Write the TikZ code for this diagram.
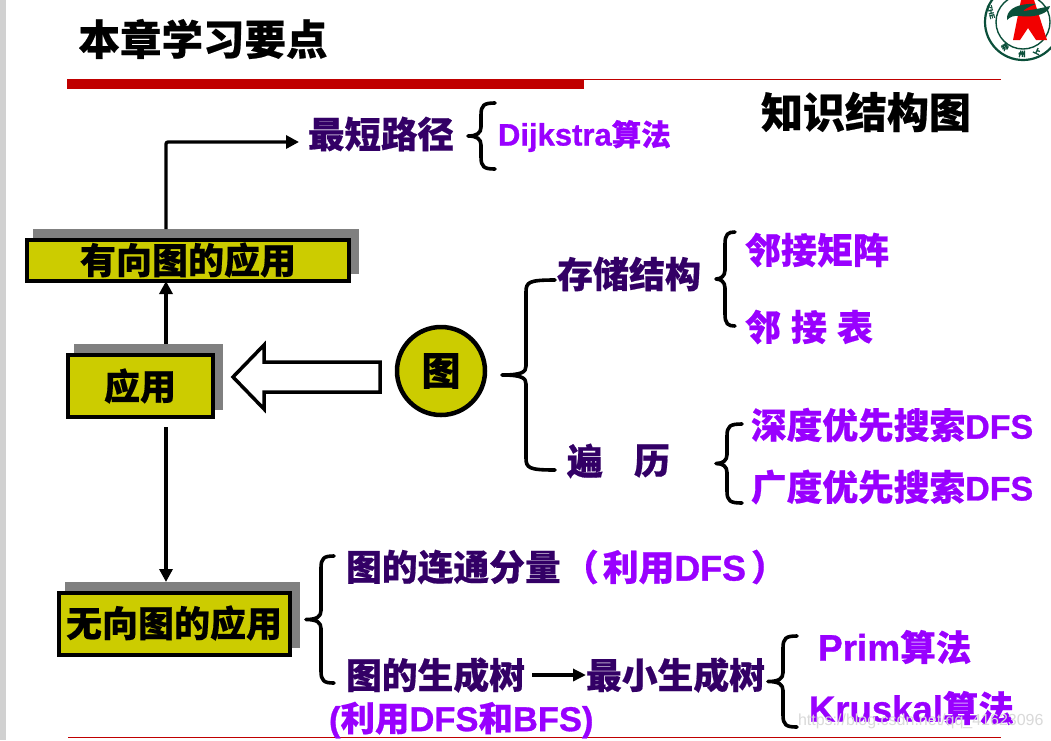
\documentclass[tikz,border=0pt]{standalone}
\usepackage{fontspec}
\setmainfont{Noto Sans CJK SC}[BoldFeatures={FakeBold=0.5}]
\newfontfamily\lat{Liberation Sans}[BoldFeatures={FakeBold=0.9}]
\usetikzlibrary{arrows.meta}
\definecolor{boxy}{HTML}{CCCC00}
\definecolor{shad}{HTML}{808080}
\definecolor{darkp}{HTML}{330066}
\definecolor{brightp}{HTML}{9900FF}
\definecolor{rule}{HTML}{C00000}
\definecolor{logog}{HTML}{0B4F3A}
\newcommand{\fs}[1]{\fontsize{#1}{#1}\selectfont\bfseries}
\newcommand{\la}[1]{{\lat\bfseries #1}}
\newcommand{\mybrace}[5]{% tip, spine, end, top, bottom
  \pgfmathsetmacro{\ymid}{(#4+#5)/2}
  \draw[bracep] (#3,#4) .. controls (#2+3,#4) and (#2,#4+2) .. (#2,#4+12)
    -- (#2,\ymid-9) .. controls (#2,\ymid-3) and (#2-4,\ymid) .. (#1,\ymid)
    .. controls (#2-4,\ymid) and (#2,\ymid+3) .. (#2,\ymid+9)
    -- (#2,#5-12) .. controls (#2,#5-2) and (#2+3,#5) .. (#3,#5);}
\tikzset{
  x=1pt,y=-1pt,
  every node/.style={inner sep=0pt,outer sep=0pt},
  bracep/.style={line width=3.6pt,black,line cap=round,line join=round},
  ybox/.style={fill=boxy,draw=black,line width=4pt},
  flow/.style={line width=3.3pt,black,-{Triangle[length=13pt,width=13pt]}},
  dk/.style={text=darkp},
  br/.style={text=brightp},
  blk/.style={text=black},
}
\begin{document}
\begin{tikzpicture}
\useasboundingbox (0,0) rectangle (1051,740);
\fill[white] (0,0) rectangle (1051,740);
\fill[black!18] (0,0) rectangle (6,740);
% rules
\draw[rule,line width=1pt] (67,79.5) -- (1001,79.5);
\fill[rule] (67,79) rectangle (584,89);
\draw[rule,line width=1pt] (68,737.5) -- (1001,737.5);
% logo
\begin{scope}
\clip (970,0) rectangle (1051,70);
\draw[logog,line width=2.2pt] (1023,22) circle (38);
\draw[logog,line width=1.4pt] (1023,22) circle (27);
\fill[red!95!black] (1021,0) -- (1034,0) -- (1047,40) -- (1036,40) -- (1028,28) -- (1020,40) -- (1013,40) -- cycle;
\fill[logog] (1007,17) .. controls (1008,8) and (1020,3) .. (1036,4) .. controls (1028,7) and (1025,9) .. (1023,11)
  .. controls (1032,10) and (1042,8) .. (1050,6) .. controls (1049,13) and (1036,18) .. (1020,16) .. controls (1014,15) and (1010,17) .. (1007,20) -- cycle;
\node[logog,rotate=-75,font=\fs{7}\lat] (lz) at (991,12) {ZHE};
\node[logog,rotate=35,font=\fs{7}] (l1) at (1005,47) {郑};
\node[logog,font=\fs{7}] (l2) at (1022,54) {州};
\node[logog,rotate=-25,font=\fs{7}] (l3) at (1037,51) {上};
\end{scope}
% title
\node[blk,font=\fs{41.5}] (title) at (203,39) {本章学习要点};
\node[blk,font=\fs{42}] (kt) at (866,112) {知识结构图};
% shadows and boxes
\path[fill=shad] (33,229) rectangle (359,274);
\coordinate (sa) at (196,229);
\path[fill=shad] (74,344) rectangle (223,410);
\coordinate (sb) at (148,344);
\path[fill=shad] (65,582) rectangle (300,648);
\coordinate (sc) at (182,582);
\coordinate (trunk) at (166,0);
\node[ybox,minimum width=322pt,minimum height=41pt] (dir) at (188,260.5) {};
\node[ybox,minimum width=145pt,minimum height=62pt] (app) at (140.5,386) {};
\node[ybox,minimum width=231pt,minimum height=62pt] (und) at (174.5,624) {};
\node[blk,font=\fs{36}] at (188,260) {有向图的应用};
\node[blk,font=\fs{36}] at (140,386) {应用};
\node[blk,font=\fs{36}] at (174,623) {无向图的应用};
\node[fill=boxy,draw=black,line width=4.5pt,circle,minimum size=88pt,font=\fs{39}] (g) at (441,371) {图};
% connectors
\node[dk,font=\fs{36.5}] (sp) at (381,134) {最短路径};
\coordinate (spw) at (299,142);
\draw[line width=3.3pt,-{Triangle[length=13pt,width=13pt]},rounded corners=2pt] (sa -| trunk) -- (trunk |- spw) -- (spw);
\draw[flow] (sb -| trunk) -- (dir.south -| trunk);
\coordinate (dstart) at (166,427);
\draw[flow] (dstart) -- (sc -| trunk);
% block arrow
\draw[black,fill=white,line width=3.5pt,miter limit=10] (380,362) -- (264,362) -- (264,345) -- (233,377) -- (264,409) -- (264,392) -- (380,392) -- cycle;
% braces
\mybrace{468}{481}{495}{103}{169}
\mybrace{502}{526}{555}{280}{470}
\mybrace{716}{725}{735}{232}{326}
\mybrace{716}{727}{742}{424}{503}
\mybrace{306}{321}{334}{556}{683}
\mybrace{768}{783}{797}{636}{727}
% texts
\node[br,font=\fs{29.5},anchor=west] (dij) at (498,136) {\fontsize{31}{31}\selectfont\la{Dijkstra}\fs{29.5}算法};
\node[dk,font=\fs{36}] (cc) at (629,274) {存储结构};
\node[br,font=\fs{36}] (jz) at (817,250) {邻接矩阵};
\node[br,font=\fs{36},anchor=west] (lb1) at (745,327) {邻};
\node[br,font=\fs{36},anchor=west] (lb2) at (791,327) {接};
\node[br,font=\fs{36},anchor=west] (lb3) at (837,327) {表};
\node[dk,font=\fs{36},anchor=west] (bl1) at (567,461) {遍};
\node[dk,font=\fs{36},anchor=west] (bl2) at (634,461) {历};
\node[br,font=\fs{35.7},anchor=west] (sd) at (751,425) {深度优先搜索\fontsize{34}{34}\selectfont\la{DFS}};
\node[br,font=\fs{35.7},anchor=west] (gd) at (751,487) {广度优先搜索\fontsize{34}{34}\selectfont\la{DFS}};
\node[dk,font=\fs{35.8},anchor=west] (lt) at (346,567) {图的连通分量};
\node[br,font=\fs{35.8},anchor=west] (ld) at (563,567) {（\hspace{4pt}利用\la{DFS}\hspace{5pt}）};
\node[dk,font=\fs{35.8},anchor=west] (sc1) at (346,675) {图的生成树};
\node[dk,font=\fs{35.8},anchor=west] (mst) at (586,675) {最小生成树};
\draw[line width=3.3pt,-{Triangle[length=13pt,width=12pt]}] (sc1.east) ++(7,0) -- (mst.west);
\node[br,font=\fs{34.5},anchor=west] (ly) at (329,720) {\la{(}利用\la{DFS}和\la{BFS)}};
\node[br,font=\fs{35.5},anchor=west] (pr) at (818,647) {\fontsize{37}{37}\selectfont\la{Prim}\fs{35.5}算法};
\node[br,font=\fs{35.5},anchor=west] (kr) at (809,708) {\fontsize{36.5}{36.5}\selectfont\la{Kruskal}\fs{35.5}算法};
% watermark
\node[text=black!15,font=\fontsize{16}{16}\selectfont\lat,anchor=west] (wm) at (798,721) {https://blog.csdn.net/qq\_41623096};
\end{tikzpicture}
\end{document}
